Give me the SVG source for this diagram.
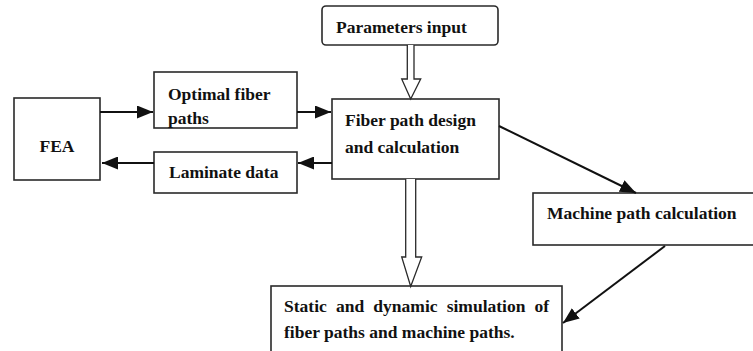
<svg xmlns="http://www.w3.org/2000/svg" width="753" height="351" viewBox="0 0 753 351">
<defs>
<style>
.box{fill:#fff;stroke:#2a2a2a;stroke-width:1.6}
.t{font-family:'Liberation Serif',Tinos,'Times New Roman','DejaVu Serif',serif;font-weight:bold;font-size:17.5px;fill:#111}
.c{stroke:#111;stroke-width:2;fill:none}
.h{fill:#fff;stroke:#2a2a2a;stroke-width:1.3;stroke-linejoin:miter}
</style>
<marker id="ah" viewBox="0 0 10 10" refX="10" refY="5" markerWidth="8" markerHeight="6.5" markerUnits="strokeWidth" orient="auto" preserveAspectRatio="none">
<path d="M0,0 L10,5 L0,10 z" fill="#111"/>
</marker>
</defs>
<rect width="753" height="351" fill="#fff"/>
<g id="fea"><rect class="box" x="14" y="98" width="86" height="82"/><text class="t" x="57" y="152" text-anchor="middle">FEA</text></g>
<g id="optimal"><rect class="box" x="154" y="72" width="143" height="56"/><text class="t" x="168" y="100">Optimal fiber</text><text class="t" x="168" y="124">paths</text></g>
<g id="laminate"><rect class="box" x="154" y="152" width="143" height="41"/><text class="t" x="169" y="178">Laminate data</text></g>
<g id="params"><rect class="box" x="322" y="6" width="176" height="39" rx="4"/><text class="t" x="336" y="33">Parameters input</text></g>
<g id="fiber"><rect class="box" x="332" y="99" width="167" height="80"/><text class="t" x="345" y="126">Fiber path design</text><text class="t" x="345" y="153">and calculation</text></g>
<g id="machine"><rect class="box" x="533" y="193" width="222" height="52"/><text class="t" x="547" y="219">Machine path calculation</text></g>
<g id="static"><rect class="box" x="271" y="286" width="291" height="80"/><text class="t" x="284" y="312" word-spacing="4.8">Static and dynamic simulation of</text><text class="t" x="284" y="338">fiber paths and machine paths.</text></g>
<g id="connectors">
<line class="c" x1="100" y1="112" x2="153" y2="112" marker-end="url(#ah)"/>
<line class="c" x1="297" y1="112" x2="331" y2="112" marker-end="url(#ah)"/>
<line class="c" x1="332" y1="163" x2="298" y2="163" marker-end="url(#ah)"/>
<line class="c" x1="154" y1="163" x2="102" y2="163" marker-end="url(#ah)"/>
<line class="c" x1="499" y1="126" x2="636" y2="193" marker-end="url(#ah)"/>
<line class="c" x1="665" y1="246" x2="563" y2="323" marker-end="url(#ah)"/>
<path class="h" d="M407.3,45 L407.3,79 L401.7,79 L410.7,99 L420.7,79 L414,79 L414,45"/>
<path class="h" d="M405.7,179 L405.7,257 L401.7,257 L410.7,286.5 L421.7,257 L415.7,257 L415.7,179"/>
</g>
</svg>
